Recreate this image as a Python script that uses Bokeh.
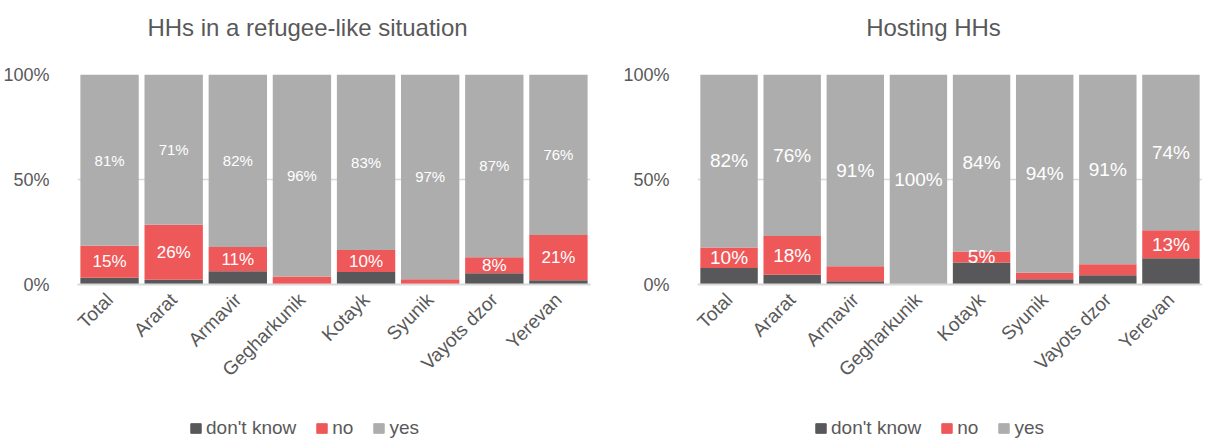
import math
from bokeh.plotting import figure
from bokeh.layouts import row, column
from bokeh.models import (ColumnDataSource, LabelSet, Label, Legend, FixedTicker,
                          PrintfTickFormatter, Range1d, FactorRange)
from bokeh.core.properties import value
from bokeh.embed import file_html
from bokeh.resources import INLINE

# ---------------- data ----------------
regions = ["Total", "Ararat", "Armavir", "Gegharkunik", "Kotayk", "Syunik", "Vayots dzor", "Yerevan"]
series = ["don't know", "no", "yes"]

# HHs in a refugee-like situation (shares, %)
ref_dk = [3.2, 2.2, 6.3, 0.0, 5.9, 0.0, 5.4, 2.0]
ref_no = [15.1, 26.0, 11.5, 3.8, 10.4, 2.5, 7.6, 21.5]
ref_yes = [81, 71, 82, 96, 83, 97, 87, 76]
ref_no_labels = ["15%", "26%", "11%", "", "10%", "", "8%", "21%"]
ref_yes_labels = ["81%", "71%", "82%", "96%", "83%", "97%", "87%", "76%"]

# Hosting HHs (shares, %)
host_dk = [7.8, 4.6, 1.6, 0.0, 10.5, 2.5, 4.4, 12.5]
host_no = [9.8, 18.3, 7.1, 0.0, 5.2, 3.1, 5.3, 13.2]
host_yes = [82, 76, 91, 100, 84, 94, 91, 74]
host_no_labels = ["10%", "18%", "", "", "5%", "", "", "13%"]
host_yes_labels = ["82%", "76%", "91%", "100%", "84%", "94%", "91%", "74%"]

titles = ["HHs in a refugee-like situation", "Hosting HHs"]

# ---------------- style ----------------
FONT = "Liberation Sans"
C_DK = "#58585A"
C_NO = "#EE5859"
C_YES = "#ADADAD"
C_TXT = "#595959"
C_GRID = "#D9D9D9"
COLORS = [C_DK, C_NO, C_YES]


def blank_fig(width, height):
    f = figure(width=width, height=height, output_backend="svg", toolbar_location=None,
               x_range=Range1d(0, width), y_range=Range1d(0, height),
               min_border_left=0, min_border_right=0, min_border_top=0, min_border_bottom=0)
    f.axis.visible = False
    f.grid.visible = False
    f.outline_line_color = None
    f.background_fill_color = "white"
    f.border_fill_color = "white"
    return f


def title_fig(text, width, cx):
    f = blank_fig(width, 64)
    f.add_layout(Label(x=cx, y=37, text=text, text_align="center", text_baseline="middle",
                       text_font=FONT, text_font_size="24px", text_color=C_TXT))
    return f


def legend_fig(width, lx):
    f = blank_fig(width, 32)
    # swatch carriers, kept outside the visible range
    rs = [f.vbar(x=[-50], top=[-50], width=1, color=c) for c in COLORS]
    legend = Legend(items=[(s, [r]) for s, r in zip(series, rs)],
                    orientation="horizontal", location=(lx, 1),
                    border_line_color=None, background_fill_alpha=0,
                    padding=0, margin=0, spacing=19, label_standoff=4,
                    glyph_width=13, glyph_height=12,
                    label_text_font=FONT, label_text_font_size="19px",
                    label_text_color=C_TXT)
    f.add_layout(legend, "center")
    return f


def make_panel(dk, no, yes, no_labels, yes_labels, width, border_left, border_right,
               yes_font, no_font):
    # 100% stacked: normalise each category to its total
    tot = [a + b + c for a, b, c in zip(dk, no, yes)]
    dkp = [a / t * 100 for a, t in zip(dk, tot)]
    nop = [b / t * 100 for b, t in zip(no, tot)]
    yesp = [c / t * 100 for c, t in zip(yes, tot)]
    src = ColumnDataSource(dict(
        x=regions, dk=dkp, no=nop, yes=yesp,
        no_mid=[d + n / 2 for d, n in zip(dkp, nop)],
        yes_mid=[d + n + y / 2 for d, n, y in zip(dkp, nop, yesp)],
        no_lbl=no_labels, yes_lbl=yes_labels,
    ))

    p = figure(x_range=FactorRange(*regions, range_padding=0), y_range=Range1d(0, 100),
               width=width, height=344, output_backend="svg", toolbar_location=None,
               min_border_left=border_left, min_border_right=border_right,
               min_border_top=10, min_border_bottom=124)
    p.outline_line_color = None
    p.background_fill_color = "white"
    p.border_fill_color = "white"

    p.vbar_stack(["dk", "no", "yes"], x="x", width=0.91, source=src,
                 color=COLORS, line_color=None)

    p.add_layout(LabelSet(x="x", y="yes_mid", text="yes_lbl", source=src,
                          text_align="center", text_baseline="middle",
                          text_color="white", text_font=value(FONT),
                          text_font_size=yes_font))
    p.add_layout(LabelSet(x="x", y="no_mid", text="no_lbl", source=src,
                          text_align="center", text_baseline="middle",
                          text_color="white", text_font=value(FONT),
                          text_font_size=no_font))

    p.yaxis.ticker = FixedTicker(ticks=[0, 50, 100])
    p.yaxis.formatter = PrintfTickFormatter(format="%d%%")
    p.yaxis.axis_line_color = None
    p.yaxis.major_tick_line_color = None
    p.yaxis.minor_tick_line_color = None
    p.yaxis.major_label_text_font = FONT
    p.yaxis.major_label_text_font_size = "18px"
    p.yaxis.major_label_text_color = C_TXT
    p.yaxis.major_label_standoff = 22

    p.xaxis.axis_line_color = C_GRID
    p.xaxis.axis_line_width = 2
    p.xaxis.major_tick_line_color = None
    p.xaxis.minor_tick_line_color = None
    p.xaxis.major_label_orientation = math.pi / 4
    p.xaxis.major_label_text_font = FONT
    p.xaxis.major_label_text_font_size = "19px"
    p.xaxis.major_label_text_color = C_TXT
    p.xaxis.major_label_standoff = 6

    p.xgrid.grid_line_color = None
    p.ygrid.ticker = FixedTicker(ticks=[50, 100])
    p.ygrid.grid_line_color = C_GRID
    p.ygrid.grid_line_width = 1.5
    return p


p1 = make_panel(ref_dk, ref_no, ref_yes, ref_no_labels, ref_yes_labels,
                width=600, border_left=72, border_right=10, yes_font="15px", no_font="17px")
p2 = make_panel(host_dk, host_no, host_yes, host_no_labels, host_yes_labels,
                width=602, border_left=97, border_right=0, yes_font="19px", no_font="19px")

t1 = title_fig(titles[0], 600, 307)
t2 = title_fig(titles[1], 602, 333)
l1 = legend_fig(600, 189)
l2 = legend_fig(602, 214)

layout = column(row(t1, t2), row(p1, p2), row(l1, l2))
open("out.html", "w").write(file_html(layout, INLINE))
